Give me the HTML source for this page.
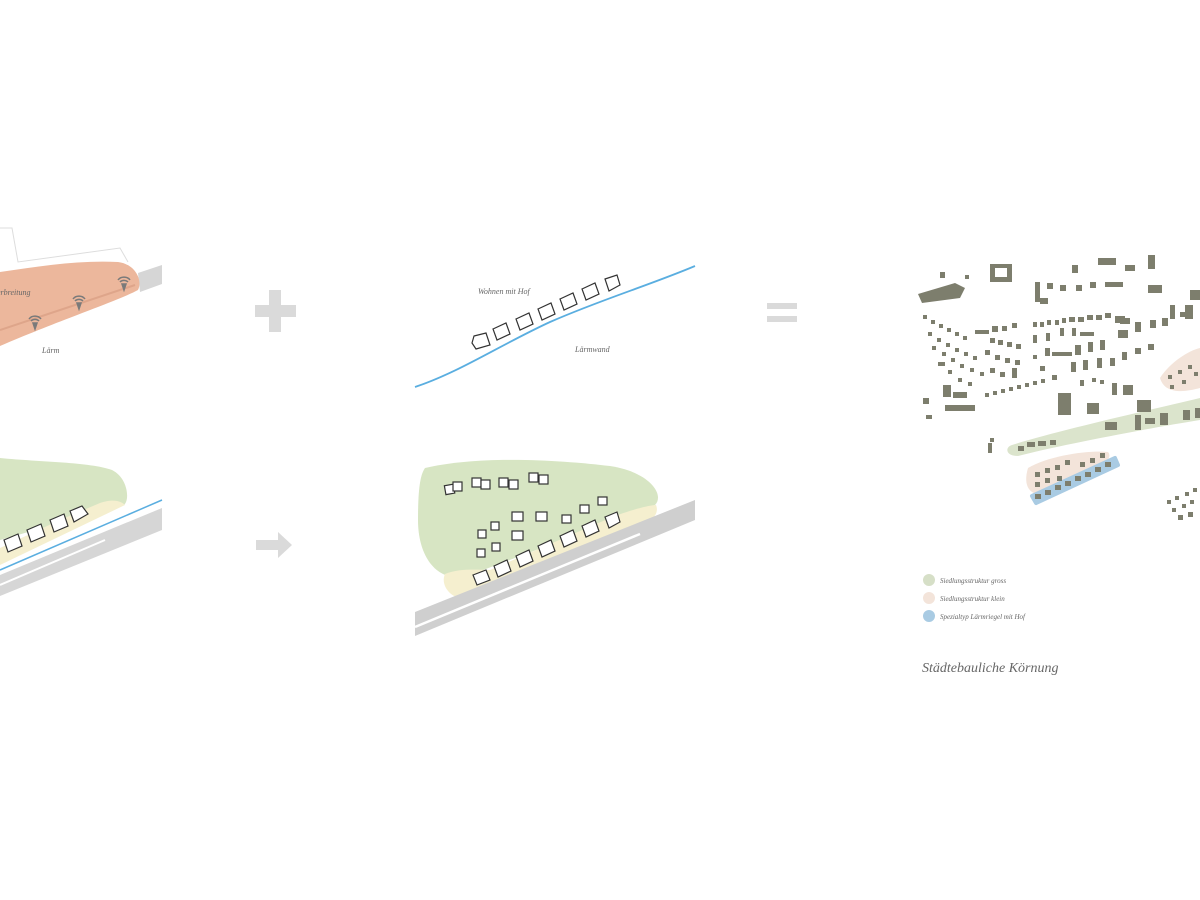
<!DOCTYPE html>
<html><head><meta charset="utf-8"><style>
html,body{margin:0;padding:0;background:#fff;width:1200px;height:900px;overflow:hidden}
svg{display:block}
text{font-family:"Liberation Serif",serif;font-style:italic;fill:#666}
</style></head><body>
<svg width="1200" height="900" viewBox="0 0 1200 900" xmlns="http://www.w3.org/2000/svg">
<!-- LEFT TOP -->
<path d="M0,228 L12,228 L18,262 L120,248 L128,262" fill="none" stroke="#ddd" stroke-width="1"/>
<polygon points="138,273 162,265 162,284 140,292" fill="#d6d6d6"/>
<path d="M0,272 C40,266 80,260 118,262 C135,264 143,280 138,290 C120,300 60,320 0,346 Z" fill="#ecb79c"/>
<path d="M0,330 L135,285" stroke="#dea58a" stroke-width="2" fill="none"/>
<g fill="none" stroke="#7a7a7a" stroke-width="1.5">
 <g transform="translate(35,322)"><path d="M-6,-3 a7,6 0 0 1 12,0 M-4,-1 a5,4 0 0 1 8,0"/><path d="M-2,1 L2,1 L0,7 Z" fill="#7a7a7a"/></g>
 <g transform="translate(79,302)"><path d="M-6,-3 a7,6 0 0 1 12,0 M-4,-1 a5,4 0 0 1 8,0"/><path d="M-2,1 L2,1 L0,7 Z" fill="#7a7a7a"/></g>
 <g transform="translate(124,283)"><path d="M-6,-3 a7,6 0 0 1 12,0 M-4,-1 a5,4 0 0 1 8,0"/><path d="M-2,1 L2,1 L0,7 Z" fill="#7a7a7a"/></g>
</g>
<text x="-3" y="295" font-size="8">erbreitung</text>
<text x="42" y="353" font-size="8">Lärm</text>
<!-- LEFT BOTTOM -->
<path d="M0,458 C40,462 90,462 112,470 C128,478 130,500 124,505 L0,540 Z" fill="#d7e5c3"/>
<path d="M0,548 L60,520 L100,503 C115,498 122,502 125,505 L0,565 Z" fill="#f5efcf"/>
<polygon points="0,575 162,508 162,530 0,596" fill="#d6d6d6"/>
<path d="M0,585 L105,540" stroke="#fff" stroke-width="2"/>
<path d="M0,570 L162,500" stroke="#5aaee0" stroke-width="1.5"/>
<g fill="#fff" stroke="#333" stroke-width="1.2">
 <polygon points="4,540 18,534 22,546 8,552"/><polygon points="27,530 41,524 45,536 31,542"/>
 <polygon points="50,520 64,514 68,526 54,532"/><polygon points="70,511 82,506 88,514 74,522"/>
</g>
<!-- PLUS / ARROW / EQUALS -->
<path d="M269,290 h12 v15 h15 v12 h-15 v15 h-12 v-15 h-14 v-12 h14 z" fill="#dadada"/>
<path d="M256,540 h22 v-8 l14,13 l-14,13 v-8 h-22 z" fill="#dadada"/>
<rect x="767" y="303" width="30" height="6" fill="#dadada"/><rect x="767" y="316" width="30" height="6" fill="#dadada"/>
<!-- MIDDLE TOP -->
<path d="M415,387 C460,372 500,345 550,322 C600,300 650,285 695,266" fill="none" stroke="#5aaee0" stroke-width="1.8"/>
<g fill="#fff" stroke="#333" stroke-width="1.2">
 <polygon points="474,336 486,333 490,345 476,349 472,343"/><polygon points="493,329 506,323 510,334 497,340"/>
 <polygon points="516,319 529,313 533,324 520,330"/><polygon points="538,309 551,303 555,314 542,320"/>
 <polygon points="560,299 573,293 577,304 564,310"/><polygon points="582,289 595,283 599,294 586,300"/>
 <polygon points="605,279 617,275 620,285 609,291"/>
</g>
<text x="478" y="294" font-size="8">Wohnen mit Hof</text>
<text x="575" y="352" font-size="8">Lärmwand</text>
<!-- MIDDLE BOTTOM -->
<path d="M425,468 C480,455 560,460 610,466 C650,472 665,495 655,505 L470,575 C440,585 418,560 418,520 C418,490 420,475 425,468 Z" fill="#d7e5c3"/>
<path d="M445,574 C460,568 478,570 490,570 L610,518 C630,510 650,505 656,505 C660,515 650,522 640,526 L470,600 C450,600 440,585 445,574 Z" fill="#f5efcf"/>
<polygon points="415,612 695,500 695,520 415,636" fill="#cfcfcf"/>
<path d="M415,627 L640,534" stroke="#fff" stroke-width="2.5"/>
<g fill="#fff" stroke="#333" stroke-width="1.2">
 <rect x="445" y="485" width="9" height="9" transform="rotate(-10 449 489)"/><rect x="453" y="482" width="9" height="9"/>
 <rect x="472" y="478" width="9" height="9"/><rect x="481" y="480" width="9" height="9"/>
 <rect x="499" y="478" width="9" height="9"/><rect x="509" y="480" width="9" height="9"/>
 <rect x="529" y="473" width="9" height="9"/><rect x="539" y="475" width="9" height="9"/>
 <rect x="478" y="530" width="8" height="8"/><rect x="491" y="522" width="8" height="8"/>
 <rect x="512" y="512" width="11" height="9"/><rect x="536" y="512" width="11" height="9"/>
 <rect x="477" y="549" width="8" height="8"/><rect x="492" y="543" width="8" height="8"/>
 <rect x="512" y="531" width="11" height="9"/><rect x="562" y="515" width="9" height="8"/>
 <rect x="580" y="505" width="9" height="8"/><rect x="598" y="497" width="9" height="8"/>
 <polygon points="473,575 486,570 490,580 477,585"/><polygon points="494,566 507,560 511,571 498,577"/>
 <polygon points="516,556 529,550 533,561 520,567"/><polygon points="538,546 551,540 555,551 542,557"/>
 <polygon points="560,536 573,530 577,541 564,547"/><polygon points="582,526 595,520 599,531 586,537"/>
 <polygon points="605,517 617,512 620,522 609,528"/>
</g>
<!-- MAP highlights -->
<path d="M1012,445 C1060,430 1150,410 1200,398 L1200,420 C1150,428 1060,445 1018,456 C1005,456 1005,447 1012,445 Z" fill="#dbe4cc"/>
<path d="M1028,468 C1050,455 1090,450 1108,452 C1115,460 1095,472 1060,490 C1040,500 1020,495 1028,468 Z" fill="#f3e4da"/>
<path d="M1032,496 L1115,458 L1118,465 L1036,503 Z" fill="#a9cbe3" stroke="#a9cbe3" stroke-width="4" stroke-linejoin="round"/>
<path d="M1160,378 C1170,362 1190,350 1200,348 L1200,388 C1185,392 1165,395 1160,378 Z" fill="#f3e4da"/>
<g fill="#7d7e6d">
 <polygon points="918,294 955,283 965,288 960,298 922,303"/><rect x="940" y="272" width="5" height="6"/><rect x="965" y="275" width="4" height="4"/>
 <path d="M990,264 h22 v18 h-22 z M995,268 v9 h12 v-9 z" fill-rule="evenodd"/>
 <rect x="1072" y="265" width="6" height="8"/><rect x="1098" y="258" width="18" height="7"/><rect x="1125" y="265" width="10" height="6"/><rect x="1148" y="255" width="7" height="14"/>
 <rect x="1035" y="282" width="5" height="20"/><rect x="1040" y="298" width="8" height="6"/>
 <rect x="1047" y="283" width="6" height="6"/><rect x="1060" y="285" width="6" height="6"/><rect x="1076" y="285" width="6" height="6"/><rect x="1090" y="282" width="6" height="6"/><rect x="1105" y="282" width="18" height="5"/><rect x="1148" y="285" width="14" height="8"/>
 <rect x="1190" y="290" width="10" height="10"/><rect x="1185" y="305" width="8" height="14"/>
</g>
<g fill="#7d7e6d" id="grid">
 <!-- rows of small houses -->
 <rect x="923" y="315" width="4" height="4"/><rect x="931" y="320" width="4" height="4"/><rect x="939" y="324" width="4" height="4"/><rect x="947" y="328" width="4" height="4"/><rect x="955" y="332" width="4" height="4"/><rect x="963" y="336" width="4" height="4"/>
 <rect x="928" y="332" width="4" height="4"/><rect x="937" y="338" width="4" height="4"/><rect x="946" y="343" width="4" height="4"/><rect x="955" y="348" width="4" height="4"/><rect x="964" y="352" width="4" height="4"/><rect x="973" y="356" width="4" height="4"/>
 <rect x="932" y="346" width="4" height="4"/><rect x="942" y="352" width="4" height="4"/><rect x="951" y="358" width="4" height="4"/><rect x="960" y="364" width="4" height="4"/><rect x="970" y="368" width="4" height="4"/><rect x="980" y="372" width="4" height="4"/>
 <rect x="938" y="362" width="7" height="4"/><rect x="948" y="370" width="4" height="4"/><rect x="958" y="378" width="4" height="4"/><rect x="968" y="382" width="4" height="4"/>
 <rect x="943" y="385" width="8" height="12"/><rect x="953" y="392" width="14" height="6"/><rect x="945" y="405" width="30" height="6"/>
 <rect x="923" y="398" width="6" height="6"/><rect x="926" y="415" width="6" height="4"/>
 <rect x="975" y="330" width="14" height="4"/><rect x="992" y="326" width="6" height="6"/><rect x="1002" y="326" width="5" height="5"/><rect x="1012" y="323" width="5" height="5"/>
 <rect x="990" y="338" width="5" height="5"/><rect x="998" y="340" width="5" height="5"/><rect x="1007" y="342" width="5" height="5"/><rect x="1016" y="344" width="5" height="5"/>
 <rect x="985" y="350" width="5" height="5"/><rect x="995" y="355" width="5" height="5"/><rect x="1005" y="358" width="5" height="5"/><rect x="1015" y="360" width="5" height="5"/>
 <rect x="990" y="368" width="5" height="5"/><rect x="1000" y="372" width="5" height="5"/><rect x="1012" y="368" width="5" height="10"/>
 <rect x="985" y="393" width="4" height="4"/><rect x="993" y="391" width="4" height="4"/><rect x="1001" y="389" width="4" height="4"/><rect x="1009" y="387" width="4" height="4"/><rect x="1017" y="385" width="4" height="4"/><rect x="1025" y="383" width="4" height="4"/><rect x="1033" y="381" width="4" height="4"/><rect x="1041" y="379" width="4" height="4"/>
 <rect x="1033" y="322" width="4" height="5"/><rect x="1040" y="322" width="4" height="5"/><rect x="1047" y="320" width="4" height="5"/><rect x="1055" y="320" width="4" height="5"/><rect x="1062" y="318" width="4" height="5"/><rect x="1069" y="317" width="6" height="5"/><rect x="1078" y="317" width="6" height="5"/><rect x="1087" y="315" width="6" height="5"/><rect x="1096" y="315" width="6" height="5"/><rect x="1105" y="313" width="6" height="5"/><rect x="1115" y="316" width="10" height="7"/>
 <rect x="1033" y="335" width="4" height="8"/><rect x="1046" y="333" width="4" height="8"/><rect x="1060" y="328" width="4" height="8"/><rect x="1072" y="328" width="4" height="8"/><rect x="1080" y="332" width="14" height="4"/>
 <rect x="1033" y="355" width="4" height="4"/><rect x="1045" y="348" width="5" height="8"/><rect x="1052" y="352" width="20" height="4"/><rect x="1075" y="345" width="6" height="10"/><rect x="1088" y="342" width="5" height="10"/><rect x="1100" y="340" width="5" height="10"/>
 <rect x="1071" y="362" width="5" height="10"/><rect x="1083" y="360" width="5" height="10"/><rect x="1097" y="358" width="5" height="10"/><rect x="1110" y="358" width="5" height="8"/><rect x="1122" y="352" width="5" height="8"/><rect x="1135" y="348" width="6" height="6"/><rect x="1148" y="344" width="6" height="6"/>
 <rect x="1120" y="318" width="10" height="6"/><rect x="1118" y="330" width="10" height="8"/><rect x="1135" y="322" width="6" height="10"/><rect x="1150" y="320" width="6" height="8"/><rect x="1162" y="318" width="6" height="8"/><rect x="1170" y="305" width="5" height="14"/><rect x="1180" y="312" width="6" height="5"/>
 <rect x="1123" y="385" width="10" height="10"/><rect x="1112" y="383" width="5" height="12"/><rect x="1100" y="380" width="4" height="4"/><rect x="1092" y="378" width="4" height="4"/><rect x="1080" y="380" width="4" height="6"/>
 <rect x="1040" y="366" width="5" height="5"/><rect x="1052" y="375" width="5" height="5"/>
 <rect x="1058" y="393" width="13" height="22"/><rect x="1087" y="403" width="12" height="11"/><rect x="1137" y="400" width="14" height="12"/>
 <rect x="1105" y="422" width="12" height="8"/><rect x="1135" y="415" width="6" height="15"/><rect x="1145" y="418" width="10" height="6"/><rect x="1160" y="413" width="8" height="12"/><rect x="1183" y="410" width="7" height="10"/><rect x="1195" y="408" width="5" height="10"/>
 <rect x="1018" y="446" width="6" height="5"/><rect x="1027" y="442" width="8" height="5"/><rect x="1038" y="441" width="8" height="5"/><rect x="1050" y="440" width="6" height="5"/>
 <rect x="988" y="443" width="4" height="10"/><rect x="990" y="438" width="4" height="4"/>
 <rect x="1035" y="472" width="5" height="5"/><rect x="1045" y="468" width="5" height="5"/><rect x="1055" y="465" width="5" height="5"/><rect x="1065" y="460" width="5" height="5"/><rect x="1035" y="482" width="5" height="5"/><rect x="1045" y="478" width="5" height="5"/><rect x="1057" y="476" width="5" height="5"/><rect x="1080" y="462" width="5" height="5"/><rect x="1090" y="458" width="5" height="5"/><rect x="1100" y="453" width="5" height="5"/>
 <rect x="1035" y="494" width="6" height="5"/><rect x="1045" y="490" width="6" height="5"/><rect x="1055" y="485" width="6" height="5"/><rect x="1065" y="481" width="6" height="5"/><rect x="1075" y="476" width="6" height="5"/><rect x="1085" y="472" width="6" height="5"/><rect x="1095" y="467" width="6" height="5"/><rect x="1105" y="462" width="6" height="5"/>
 <rect x="1168" y="375" width="4" height="4"/><rect x="1178" y="370" width="4" height="4"/><rect x="1188" y="365" width="4" height="4"/><rect x="1170" y="385" width="4" height="4"/><rect x="1182" y="380" width="4" height="4"/><rect x="1194" y="372" width="4" height="4"/>
 <rect x="1167" y="500" width="4" height="4"/><rect x="1175" y="496" width="4" height="4"/><rect x="1185" y="492" width="4" height="4"/><rect x="1193" y="488" width="4" height="4"/><rect x="1172" y="508" width="4" height="4"/><rect x="1182" y="504" width="4" height="4"/><rect x="1190" y="500" width="4" height="4"/><rect x="1178" y="515" width="5" height="5"/><rect x="1188" y="512" width="5" height="5"/>
</g>
<!-- legend -->
<circle cx="929" cy="580" r="6" fill="#d6dfc7"/>
<circle cx="929" cy="598" r="6" fill="#f3e4da"/>
<circle cx="929" cy="616" r="6" fill="#a9cbe3"/>
<text x="940" y="583" font-size="7">Siedlungsstruktur gross</text>
<text x="940" y="601" font-size="7">Siedlungsstruktur klein</text>
<text x="940" y="619" font-size="7">Spezialtyp Lärmriegel mit Hof</text>
<text x="922" y="672" font-size="14" fill="#555">Städtebauliche Körnung</text>
</svg>
</body></html>
